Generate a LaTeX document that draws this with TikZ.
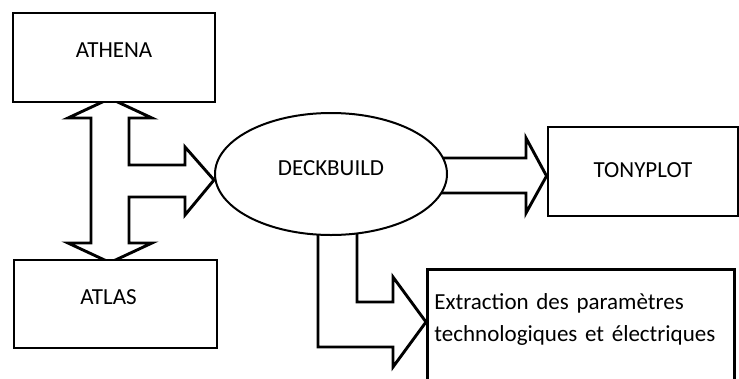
\documentclass[tikz,border=0pt]{standalone}
\usepackage{fontspec}
\setmainfont{Carlito}
\usetikzlibrary{shapes,positioning,calc,backgrounds}

\begin{document}
\begin{tikzpicture}[x=1pt, y=-1pt]
\tikzset{
block/.style    = {draw, shape=rectangle, line width=2.9pt, fill=white, inner sep=0pt, font=\fontsize{23}{32}\selectfont},
oval/.style     = {draw, shape=ellipse, line width=2pt, fill=white, inner sep=0pt, font=\fontsize{23}{32}\selectfont},
fat/.style      = {draw, line width=2.9pt, fill=white, line join=miter},
}
    \path [use as bounding box, clip] (0,0) rectangle (739,378);

    % Tool nodes
    \node [block, minimum width=202pt, minimum height=89pt, text height=16pt, text depth=17pt] (athena) at (114,57.5) {ATHENA};
    \node [block, minimum width=203pt, minimum height=88pt, text height=16pt, text depth=16pt] (atlas) at (115.5,304) {ATLAS\hspace*{14pt}};
    \node [oval, minimum width=232pt, minimum height=122pt, text height=16pt, text depth=13pt] (deckbuild) at (331,174) {DECKBUILD};
    \node [block, minimum width=190pt, minimum height=89pt, text height=16pt, text depth=5pt] (tonyplot) at (643,171.5) {TONYPLOT};
    \node [block, anchor=north west, text width=293pt, align=left, inner xsep=7pt, text height=40pt, text depth=130pt] (extract) at (426,268)
        {Extraction des paramètres\\technologiques et électriques};

    % Fat arrows
    \begin{scope}[on background layer]
    \draw [fat] ($(athena.south)+(-4,-5)$) -- (152,118) -- (129,118) -- (129,165) -- (185,165) -- (185,147)
        -- ($(deckbuild.west)+(0,6)$) -- (185,215) -- (185,197) -- (129,197) -- (129,243) -- (152,243)
        -- ($(atlas.north)+(-5.5,4)$) -- (68,243) -- (91,243) -- (91,118) -- (68,118) -- cycle;
    \draw [fat] (440,158) -- (526,158) -- (526,138) -- (tonyplot.west |- 0,176) -- (526,213) -- (526,193) -- (440,193) -- cycle;
    \draw [fat] (357,215) -- (357,302) -- (393,302) -- (393,277) -- (extract.west |- 0,322) -- (393,367) -- (393,347)
        -- (318,347) -- (318,215) -- cycle;
    \end{scope}

\end{tikzpicture}
\end{document}
